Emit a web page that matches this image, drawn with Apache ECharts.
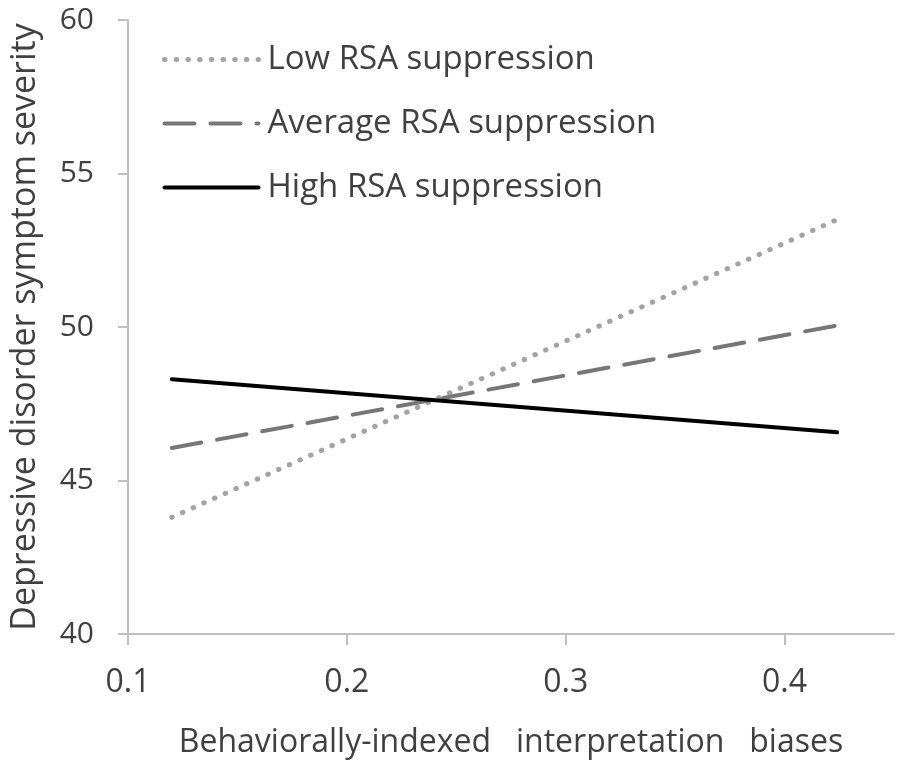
<!DOCTYPE html>
<html>
<head>
<meta charset="utf-8">
<script src="https://cdn.jsdelivr.net/npm/echarts@6/dist/echarts.min.js"></script>
<style>html,body{margin:0;padding:0;background:#fff;}#c{width:900px;height:768px;}</style>
</head>
<body>
<div id="c"></div>
<script>
const xPoints = [0.12, 0.424];
const lowRSA = [43.8, 53.5];
const avgRSA = [46.06, 50.05];
const highRSA = [48.3, 46.57];
const seriesNames = ['Low RSA suppression', 'Average RSA suppression', 'High RSA suppression'];
const xTitle = 'Behaviorally-indexed   interpretation   biases';
const yTitle = 'Depressive disorder symptom severity';

const toPairs = (ys) => xPoints.map((x, i) => [x, ys[i]]);
const font = 'Open Sans';
const textColor = '#404040';
const axisColor = '#bfbfbf';

const styles = [
  { color: '#a3a3a3', width: 5, type: [0.5, 11.2], cap: 'round' },
  { color: '#777777', width: 4, type: [30, 16], cap: 'round' },
  { color: '#000000', width: 4, type: 'solid', cap: 'round' }
];

const chart = echarts.init(document.getElementById('c'));
chart.setOption({
  animation: false,
  backgroundColor: '#fff',
  grid: { left: 128, top: 20, right: 6, bottom: 134, outerBoundsMode: 'none', containLabel: false },
  legend: {
    orient: 'vertical',
    left: 157,
    top: 38,
    itemWidth: 94,
    itemHeight: 6,
    itemGap: 31,
    itemStyle: { opacity: 0 },
    data: seriesNames.map((n, i) => ({ name: n, lineStyle: Object.assign({}, styles[i]) })),
    textStyle: { fontFamily: font, fontSize: 33, color: textColor, padding: [0, 0, 0, 4] }
  },
  xAxis: {
    type: 'value',
    min: 0.1, max: 0.45, interval: 0.1,
    name: xTitle,
    nameLocation: 'middle',
    nameGap: 93,
    nameTextStyle: { fontFamily: font, fontSize: 32, color: textColor },
    axisLine: { show: true, lineStyle: { color: axisColor, width: 2 } },
    axisTick: { show: true, length: 11, lineStyle: { color: axisColor, width: 2 } },
    axisLabel: { fontFamily: font, fontSize: 32, color: textColor, margin: 33,
      formatter: (v) => v.toFixed(1), showMaxLabel: false },
    splitLine: { show: false }
  },
  yAxis: {
    type: 'value',
    min: 40, max: 60, interval: 5,
    name: yTitle,
    nameLocation: 'middle',
    nameGap: 86,
    nameTextStyle: { fontFamily: font, fontSize: 34, color: textColor },
    axisLine: { show: true, lineStyle: { color: axisColor, width: 2 } },
    axisTick: { show: true, length: 10, lineStyle: { color: axisColor, width: 2 } },
    axisLabel: { fontFamily: font, fontSize: 30, color: textColor, margin: 34 },
    splitLine: { show: false }
  },
  series: seriesNames.map((n, i) => ({
    name: n, type: 'line', data: toPairs([lowRSA, avgRSA, highRSA][i]), symbol: 'none',
    itemStyle: { color: styles[i].color },
    lineStyle: styles[i]
  }))
});
</script>
</body>
</html>
